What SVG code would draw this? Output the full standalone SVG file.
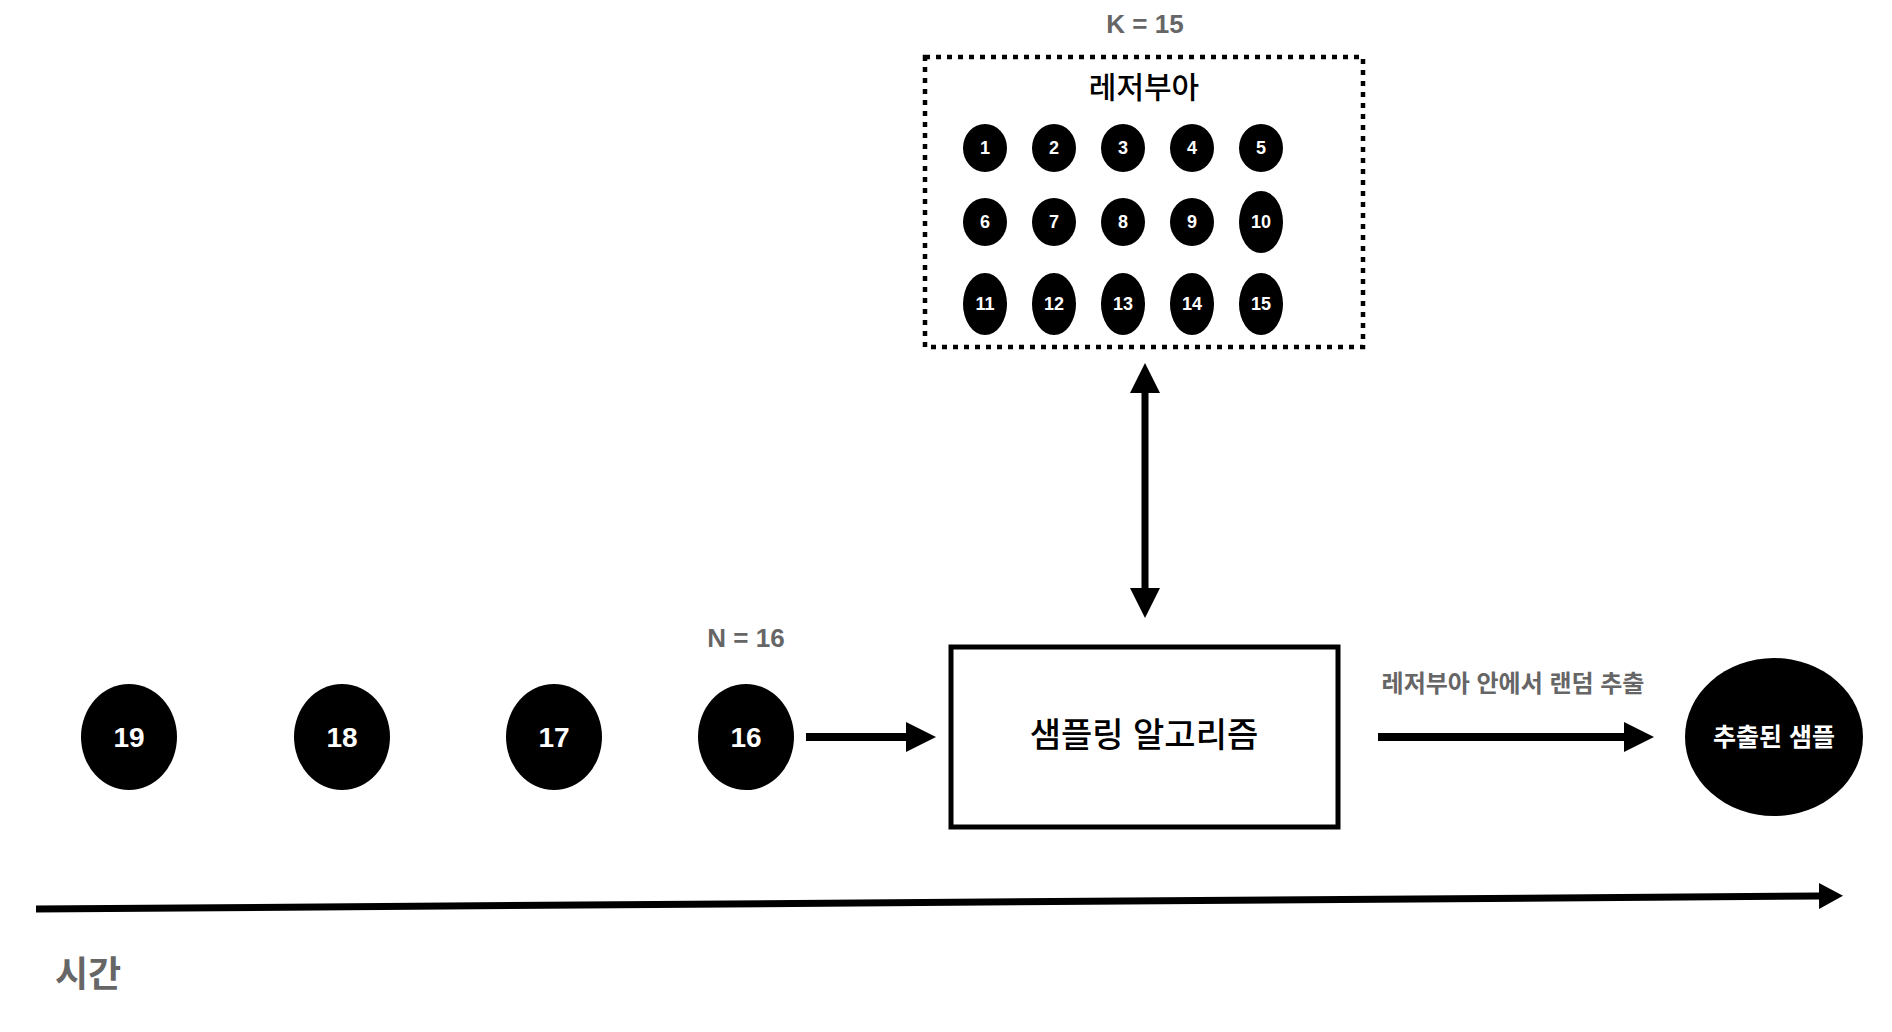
<svg xmlns="http://www.w3.org/2000/svg" width="1892" height="1032" viewBox="0 0 1892 1032">
<style>
text{font-family:"Liberation Sans","Noto Sans CJK KR",sans-serif;text-anchor:middle;dominant-baseline:central}
.gray{fill:#666;font-weight:bold}
.dot{fill:#000}
.sd{fill:#fff;font-weight:bold;font-size:18px}
.bd{fill:#fff;font-weight:bold;font-size:28px}
.title{fill:#000;font-weight:500}
.conn{stroke:#000;fill:none}
</style>
<defs>
<marker id="ah" markerUnits="userSpaceOnUse" markerWidth="30" markerHeight="30" refX="0" refY="15" orient="auto-start-reverse" viewBox="0 0 30 30"><path d="M0,0L30,15L0,30z" fill="#000"/></marker>
<marker id="ah2" markerUnits="userSpaceOnUse" markerWidth="24" markerHeight="26" refX="0" refY="13" orient="auto" viewBox="0 0 24 26"><path d="M0,0L24,13L0,26z" fill="#000"/></marker>
</defs>
<rect width="1892" height="1032" fill="#fff"/>
<text class="gray" x="1145" y="24" font-size="26">K = 15</text>
<g id="reservoir">
<rect x="925" y="57" width="438" height="290" fill="none" stroke="#000" stroke-width="4.5" stroke-dasharray="5 6"/>
<text class="title" x="1144" y="87" font-size="30">레저부아</text>
</g>
<g id="r1"><ellipse class="dot" cx="985" cy="148" rx="22" ry="24"/><text class="sd" x="985" y="148">1</text></g>
<g id="r2"><ellipse class="dot" cx="1054" cy="148" rx="22" ry="24"/><text class="sd" x="1054" y="148">2</text></g>
<g id="r3"><ellipse class="dot" cx="1123" cy="148" rx="22" ry="24"/><text class="sd" x="1123" y="148">3</text></g>
<g id="r4"><ellipse class="dot" cx="1192" cy="148" rx="22" ry="24"/><text class="sd" x="1192" y="148">4</text></g>
<g id="r5"><ellipse class="dot" cx="1261" cy="148" rx="22" ry="24"/><text class="sd" x="1261" y="148">5</text></g>
<g id="r6"><ellipse class="dot" cx="985" cy="222" rx="22" ry="24"/><text class="sd" x="985" y="222">6</text></g>
<g id="r7"><ellipse class="dot" cx="1054" cy="222" rx="22" ry="24"/><text class="sd" x="1054" y="222">7</text></g>
<g id="r8"><ellipse class="dot" cx="1123" cy="222" rx="22" ry="24"/><text class="sd" x="1123" y="222">8</text></g>
<g id="r9"><ellipse class="dot" cx="1192" cy="222" rx="22" ry="24"/><text class="sd" x="1192" y="222">9</text></g>
<g id="r10"><ellipse class="dot" cx="1261" cy="222" rx="22" ry="31"/><text class="sd" x="1261" y="222">10</text></g>
<g id="r11"><ellipse class="dot" cx="985" cy="304" rx="22" ry="31"/><text class="sd" x="985" y="304">11</text></g>
<g id="r12"><ellipse class="dot" cx="1054" cy="304" rx="22" ry="31"/><text class="sd" x="1054" y="304">12</text></g>
<g id="r13"><ellipse class="dot" cx="1123" cy="304" rx="22" ry="31"/><text class="sd" x="1123" y="304">13</text></g>
<g id="r14"><ellipse class="dot" cx="1192" cy="304" rx="22" ry="31"/><text class="sd" x="1192" y="304">14</text></g>
<g id="r15"><ellipse class="dot" cx="1261" cy="304" rx="22" ry="31"/><text class="sd" x="1261" y="304">15</text></g>
<g id="s19"><ellipse class="dot" cx="129" cy="737" rx="48" ry="53"/><text class="bd" x="129" y="737">19</text></g>
<g id="s18"><ellipse class="dot" cx="342" cy="737" rx="48" ry="53"/><text class="bd" x="342" y="737">18</text></g>
<g id="s17"><ellipse class="dot" cx="554" cy="737" rx="48" ry="53"/><text class="bd" x="554" y="737">17</text></g>
<g id="s16"><ellipse class="dot" cx="746" cy="737" rx="48" ry="53"/><text class="bd" x="746" y="737">16</text></g>
<text class="gray" x="746" y="638" font-size="26">N = 16</text>
<g id="algo">
<rect x="951" y="647" width="387" height="180" fill="#fff" stroke="#000" stroke-width="5"/>
<text class="title" x="1144" y="735" font-size="34">샘플링 알고리즘</text>
</g>
<g id="sample">
<ellipse class="dot" cx="1774" cy="737" rx="89" ry="79"/>
<text x="1774" y="737" font-size="25" font-weight="bold" fill="#fff">추출된 샘플</text>
</g>
<text class="gray" x="1513" y="683" font-size="24">레저부아 안에서 랜덤 추출</text>
<g id="connectors">
<line class="conn" x1="1145" y1="393" x2="1145" y2="588" stroke-width="7" marker-start="url(#ah)" marker-end="url(#ah)"/>
<line class="conn" x1="806" y1="737" x2="906" y2="737" stroke-width="8" marker-end="url(#ah)"/>
<line class="conn" x1="1378" y1="737" x2="1624" y2="737" stroke-width="8" marker-end="url(#ah)"/>
<line class="conn" x1="36" y1="909" x2="1819" y2="896" stroke-width="7" marker-end="url(#ah2)"/>
</g>
<text class="gray" x="88" y="974" font-size="36">시간</text>
</svg>
